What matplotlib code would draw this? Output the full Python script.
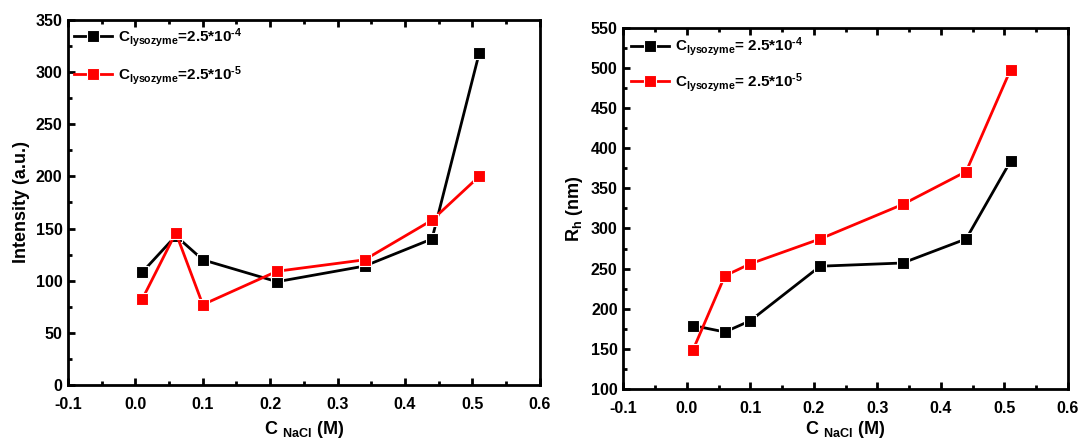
import matplotlib
matplotlib.use("Agg")
import matplotlib.pyplot as plt
from matplotlib.ticker import MultipleLocator

plt.rcParams['font.family'] = ['Liberation Sans', 'DejaVu Sans']
plt.rcParams['font.weight'] = 'bold'
plt.rcParams['mathtext.fontset'] = 'custom'
plt.rcParams['mathtext.rm'] = 'Liberation Sans:bold'
plt.rcParams['mathtext.bf'] = 'Liberation Sans:bold'
plt.rcParams['mathtext.it'] = 'Liberation Sans:bold'
plt.rcParams['mathtext.default'] = 'bf'

c_nacl = [0.01, 0.06, 0.1, 0.21, 0.34, 0.44, 0.51]
intensity_hi = [108, 143, 120, 99, 114, 140, 318]
intensity_lo = [82, 146, 77, 109, 120, 158, 200]
rh_hi = [179, 171, 185, 253, 257, 287, 384]
rh_lo = [149, 241, 256, 287, 330, 371, 498]

xticks = [-0.1, 0.0, 0.1, 0.2, 0.3, 0.4, 0.5, 0.6]

fig = plt.figure(figsize=(10.84, 4.43), dpi=100)
ax1 = fig.add_axes([0.0627, 0.131, 0.4353, 0.824])
ax2 = fig.add_axes([0.575, 0.122, 0.410, 0.815])

def style(ax, ymin, ymax, ystep):
    ax.set_xlim(-0.1, 0.6)
    ax.set_ylim(ymin, ymax)
    ax.set_xticks(xticks)
    ax.set_xticklabels(["%.1f" % v for v in xticks])
    ax.xaxis.set_minor_locator(MultipleLocator(0.05))
    ax.yaxis.set_major_locator(MultipleLocator(ystep))
    ax.yaxis.set_minor_locator(MultipleLocator(ystep / 2))
    ax.tick_params(which='both', direction='in', top=True, right=False, width=2)
    ax.tick_params(which='major', length=5, labelsize=11.5)
    ax.tick_params(axis='x', which='major', pad=9)
    ax.tick_params(axis='y', which='major', pad=4)
    ax.tick_params(which='minor', length=3)
    for s in ax.spines.values():
        s.set_linewidth(2)
    for lab in ax.get_xticklabels() + ax.get_yticklabels():
        lab.set_fontweight('bold')

mk = dict(marker='s', markersize=8, markeredgecolor='white', markeredgewidth=0.8, linewidth=2)

ax1.plot(c_nacl, intensity_hi, color='black', label=r'C$_{lysozyme}$=2.5*10$^{\text{-}4}$', **mk)
ax1.plot(c_nacl, intensity_lo, color='red', label=r'C$_{lysozyme}$=2.5*10$^{\text{-}5}$', **mk)
style(ax1, 0, 350, 50)
ax1.set_xlabel(r'C $_{NaCl}$ (M)', fontsize=13, fontweight='bold', labelpad=5)
ax1.set_ylabel('Intensity (a.u.)', fontsize=13, fontweight='bold')
ax1.legend(loc='upper left', frameon=False, fontsize=11, handlelength=2.5,
           borderaxespad=0.0, labelspacing=1.0, handletextpad=0.4)

ax2.plot(c_nacl, rh_hi, color='black', label=r'C$_{lysozyme}$= 2.5*10$^{\text{-}4}$', **mk)
ax2.plot(c_nacl, rh_lo, color='red', label=r'C$_{lysozyme}$= 2.5*10$^{\text{-}5}$', **mk)
style(ax2, 100, 550, 50)
ax2.set_xlabel(r'C $_{NaCl}$ (M)', fontsize=13, fontweight='bold', labelpad=2)
ax2.set_ylabel(r'R$_{h}$ (nm)', fontsize=13, fontweight='bold')
ax2.legend(loc='upper left', frameon=False, fontsize=11, handlelength=2.5,
           borderaxespad=0.1, labelspacing=0.8, handletextpad=0.4)

fig.savefig('out.png', dpi=100)
